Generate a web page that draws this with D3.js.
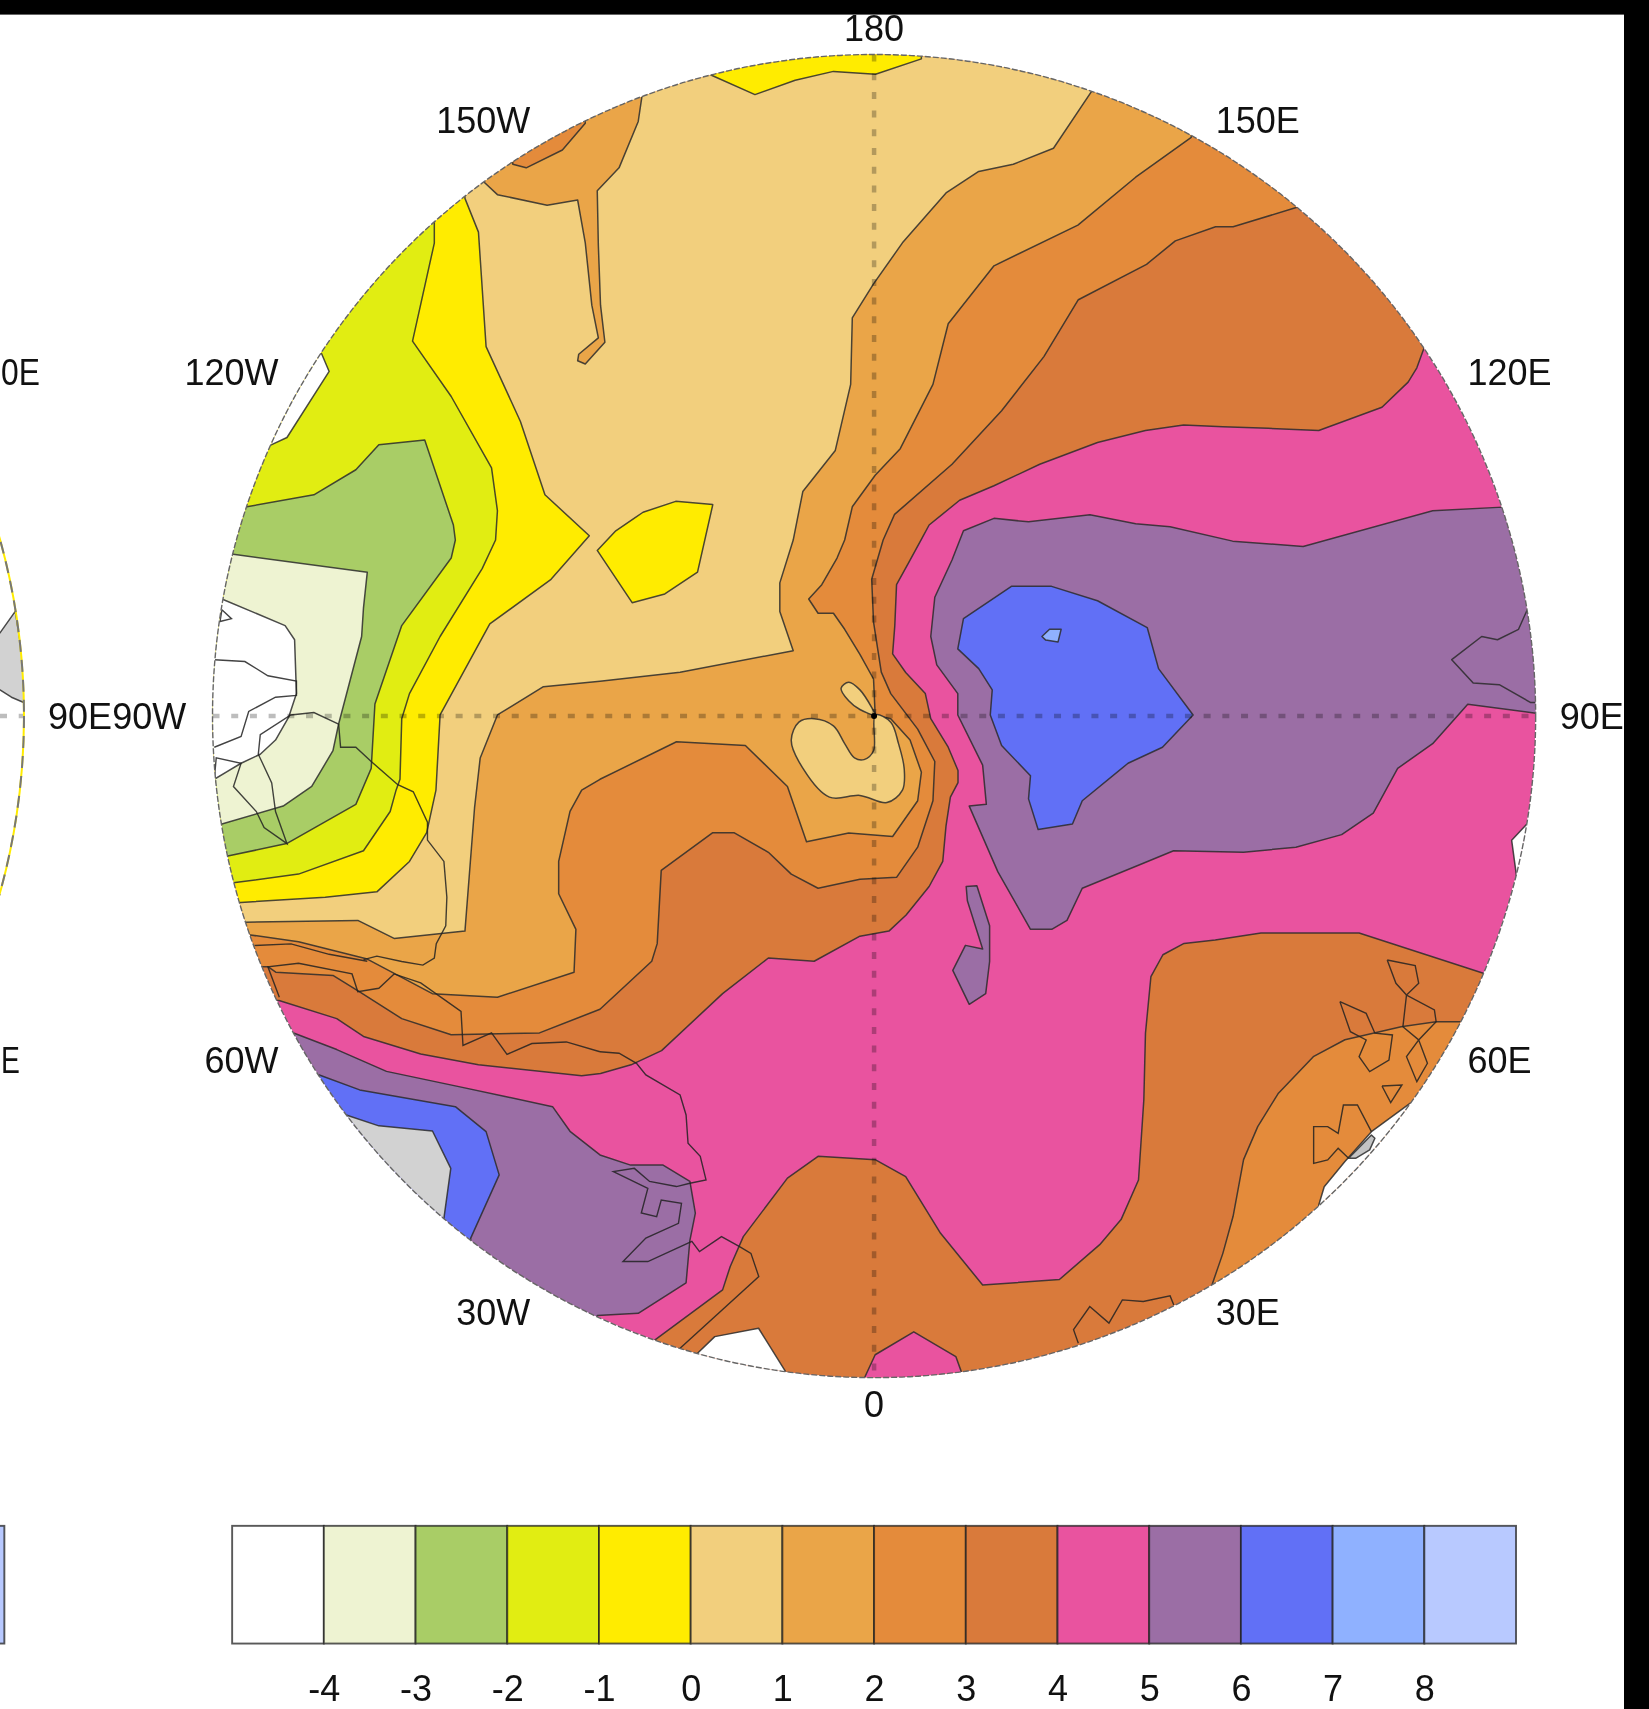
<!DOCTYPE html>
<html>
<head>
<meta charset="utf-8">
<script src="https://cdn.jsdelivr.net/npm/d3@7"></script>
<style>
  html, body { margin: 0; padding: 0; background: #000; }
  svg { display: block; }
  text { font-family: "Liberation Sans", Arial, sans-serif; font-size: 36px; fill: #111; }
  .contour { stroke: #2b2b2b; stroke-width: 1.5; stroke-opacity: 0.85; stroke-linejoin: round; }
  .coast { fill: none; stroke: #222; stroke-width: 1.4; stroke-opacity: 0.85; }
</style>
</head>
<body>
<script>
// contour levels of the colour bar, one fill per interval
const levelTicks = [-4, -3, -2, -1, 0, 1, 2, 3, 4, 5, 6, 7, 8];
const levelColors = ['#ffffff', '#eef3d2', '#a9cd66', '#e1ed12', '#ffec00', '#f2cf7d', '#eaa548',
  '#e48b3b', '#d97a3b', '#e9539f', '#9b6ea5', '#6170f6', '#8fb1ff', '#b8c9ff'];

// longitudes round the polar map
const lonValues = [0, 30, 60, 90, 120, 150, 180, -150, -120, -90, -60, -30];
const lonLabels = ['0', '30E', '60E', '90E', '120E', '150E', '180', '150W', '120W', '90W', '60W', '30W'];
// the left map only shows the ends of these labels
const leftPanelLons = [60, 90, 120];
const leftPanelFull = ['60E', '90E', '120E'];
const leftPanelShown = ['E', '90E', '0E'];

// contour outlines, in map-grid units (grid runs 195-1409 across the disc)
const level4North = [[1306.5,319.5],[1300,337.5],[1292,350.6],[1268,373.6],[1210,395],[1163.5,393],[1122,391.6],[1086,390],[1051,395],[1007,406],[954,426],[912,445.7],[880.5,459],[852.5,481.7],[845,495.5],[835,514],[822.6,536.5],[821,574],[819,600],[831,617],[849,636.4],[854,659.4],[870,685.6],[879,707],[879,718],[872,731.4],[868,757.7],[865,790.4],[852.5,813.4],[831.4,839.6],[815.6,854.3],[789,859],[747,882],[705,879],[663,911.7],[607,964],[579,977],[551,985],[533.7,987],[439,977],[386,967],[333.5,951],[309,934.6],[256,918],[150,918],[150,0],[1450,0],[1450,319]];
const level3North = [[1190.8,190],[1131.4,208],[1115.3,208],[1078.4,221],[1052,242.5],[989.4,275],[957.8,327.2],[919,376.9],[873.5,426],[820.8,471.9],[810.3,495.5],[799.8,531.5],[801.5,570.9],[808.6,616.7],[817.3,636.4],[842,669],[857.7,698.7],[856,734.7],[842,777.3],[822.6,805],[789,806.8],[750.6,815],[726,802],[705,782],[673.4,764],[654,764],[606.7,798.6],[603,865.8],[598,882],[550.5,926],[495,947.7],[414,949.4],[368.6,934.6],[330,910],[305.5,895],[253,892],[245.8,887],[150,887],[150,0],[1191,0]];
const level2North = [[1093,126],[1042,162.6],[989,206.5],[912,243.9],[870,297],[856,352.7],[826,411.7],[803,436],[782,465],[775,495.5],[768,512],[754,536.5],[742,549.6],[750.6,562.7],[764.7,562.7],[775,577.4],[789,600.4],[801.5,623],[803,656],[817.3,659.4],[835,679],[845.4,708.5],[842,734.7],[819,767.5],[778.7,764.2],[740,772.4],[722.5,721.6],[683.9,684],[620.7,680.6],[550.5,715],[533.7,725],[523,744.5],[512.6,790.4],[512.6,820],[528.4,852.7],[526.7,892],[456.4,915],[396.7,911.7],[337,880],[273.9,864],[228,857.6],[150,857],[150,0],[1093,0]];
const level1North = [[1001.7,83.6],[966.6,136],[929.7,150.7],[898,157.3],[868,177],[828,222.8],[801.5,260.5],[782,291.7],[780.5,352.7],[766.4,413.3],[736.6,451],[727.8,495.5],[715.5,534.8],[715.5,561],[727.8,597],[624,616.8],[550.5,625],[498.6,630],[456.4,656],[440.6,695.4],[435.4,741.3],[426.6,854.3],[361.6,861],[328.3,844.5],[224.7,846.1],[150,846],[150,0],[1002,0]];
const level0West = [[426.6,182],[439,213],[446,318],[477.5,386.7],[500,453.9],[540.7,491.6],[505.6,531.5],[449.4,572.5],[403.8,656],[400,725],[391.5,764],[375.7,790.4],[345.8,818.3],[298.4,823.2],[221,828],[150,828],[150,100],[427,100]];
const levelM1West = [[398.5,205],[398.5,223],[378.5,313],[414,363.8],[451,429.3],[456.4,468.6],[454.7,495.5],[442.4,521.7],[403.8,584],[375.7,636.4],[368.6,659.4],[367,715],[363.4,725],[358,744.6],[333.5,780.6],[273.9,802],[214,810],[150,810],[150,100],[398,100]];
const levelM2West = [[226.5,465],[288,454],[326.5,431],[347.6,408],[389.7,403.7],[416,481.7],[417.8,495.5],[414,512],[368.6,574],[344,646],[340.6,705],[326.5,738],[263,774],[209,785.5],[150,785],[150,465]];
const levelM3West = [[214,508.6],[337,525],[333.5,557.8],[331.8,584],[310.7,664.3],[305.5,688.8],[286,721.6],[259.8,739.6],[203.6,756],[150,756],[150,508]];
const levelM4West = [[203.6,549.6],[261.6,574],[270.3,587],[272,636.4],[265,657.7],[252.8,679],[238.8,692],[221.2,700.3],[196.6,715],[150,715],[150,550]];
const notch120W = [[295,324.4],[302,340.8],[263.3,401.4],[249.3,408],[200,408],[200,324]];
const yellowTop = [[652.3,68.8],[692.7,86.8],[729.6,73.7],[764.7,65.5],[803.3,68.2],[845.4,54],[845,20],[652,20]];
const yellowBlob = [[548,505],[580,553],[610,545],[640,525],[654,463],[620,460],[590,470],[565,487]];
const peninsula150W = [[444,167],[456.4,178.6],[502,188.4],[530,183.5],[537,222.8],[543,280],[549,310],[531,325],[530,331],[537,334],[555,314],[551,280],[549,225],[548,175],[568,154],[585.6,111.4],[589,88.5],[589,20],[400,20],[400,167]];
const orange150W = [[470.5,150.7],[482.8,154],[516,137.6],[537,113],[537,60],[470,60]];
const tanLoopSouth = [[726,679],[733,662.6],[747,659.4],[764.7,666],[775,682.3],[784,695.4],[792.8,697],[801.5,688.8],[803.3,656],[817.3,662.6],[824.4,682.3],[829.6,705],[828,725],[813.8,736.4],[789,729.8],[761,731.4],[733,698.7]];
const tanLoopNorth = [[803,656],[789,651],[778.7,643],[771.7,631.5],[778.7,626],[789,633],[800,649.5]];
const level5East = [[1378.8,465.3],[1314.5,468.6],[1195.7,501.4],[1131,496.5],[1073.6,483.4],[1042,480.5],[1000,472.3],[943.7,478.8],[912,475.6],[884,487],[873.5,513.8],[857.7,548],[854,584],[859.5,610],[878.8,636.4],[878.8,656],[901.6,702],[905,738],[889.3,739.6],[915.6,800],[945.5,852.7],[965,852.7],[979,844.5],[993,815],[1049,792],[1076.8,780.6],[1141,782],[1189,777.3],[1231,765.8],[1260,746],[1282.4,705],[1314.5,682.3],[1346.7,646.2],[1409.3,654.4],[1500,654],[1500,465]];
const level6East = [[928,538],[964.8,538],[1007,551.2],[1052.6,575.8],[1063,613.5],[1094.7,656],[1066.6,685.6],[1035,700.3],[993,734.7],[984,756],[952.5,761],[943.7,733],[945.5,711.8],[919,684],[908.6,656],[910.4,633],[898,613.5],[878.8,595.4],[884,567.6]];
const level7East = [[956,584],[963,577.4],[973.6,577.4],[970.8,589],[959.5,587.3]];
const purpleIslands = [[886.5,813.4],[896.3,812.7],[908,849.4],[908,882.2],[904.4,911.7],[889.3,921.5],[874.2,890.4],[885.8,867.4],[901.6,870.8],[887.6,826.5]];
const purpleInset90E = [[1401.3,559.4],[1393.3,577.4],[1374,587],[1359.5,584],[1332,605.3],[1351.7,626.6],[1375.6,628.2],[1404.5,644.6],[1500,644.6],[1500,559]];
const whiteEast = [[1401,756],[1387,771],[1392,808],[1500,808],[1500,756]];
const level5South = [[270,948],[309,963],[354.6,983],[421,997],[463.5,1006],[507,1015.4],[523,1038],[550.5,1059.7],[578.6,1069],[608.4,1069],[633,1084],[638,1113],[633,1138],[629.5,1177],[585.6,1205],[548,1207],[548,1300],[150,1300],[150,948]];
const level6South = [[293,986.3],[330,1000],[417.8,1015.4],[446,1038.3],[458,1078],[431.9,1136],[431,1300],[150,1300],[150,986]];
const missingSouth = [[317.7,1023],[347.6,1033],[396.8,1037.7],[413.6,1072],[407.3,1117.8],[407,1300],[150,1300],[150,1023]];
const level4South = [[1361,893],[1247,856],[1157,856],[1115,862.5],[1086.4,865.6],[1067,876],[1056,896],[1051,948],[1049.5,1009],[1044.6,1082.7],[1028.6,1119],[1009,1142],[972,1174],[901.6,1179],[863,1131.6],[831,1079.6],[803,1064],[750.6,1061],[722.5,1081],[682,1134.6],[670,1162],[663,1183.5],[601,1229.4],[540,1330],[1500,1330],[1500,893]];
const level3South = [[1112,1179],[1122,1150],[1131.4,1116],[1141,1064],[1154,1033.7],[1173,1003],[1205,969.5],[1234,954],[1285.6,942],[1317.7,937.4],[1340,937.4],[1500,937],[1500,1330],[1112,1330]];
const whiteSouthEast = [[1210,1105.6],[1215,1088.8],[1234,1065.8],[1258.3,1038.3],[1293.7,1012.3],[1400,1012],[1400,1200],[1210,1200]];
const missingSliver = [[1237.4,1062.8],[1258.3,1041.4],[1261.5,1044.4],[1256.7,1055],[1243.8,1062.8]];
const pinkPatchSouth = [[793,1264.6],[803,1243],[838.4,1222],[877,1244.7],[882,1258.5],[882,1300],[793,1300]];
const whiteSouth = [[640,1241.6],[655.8,1226.4],[696,1218.7],[720.8,1258.5],[720,1300],[640,1300]];
const missingLeftPanel = [[-100,580.7],[0,580.7],[14,561],[19.3,594],[22.8,620],[21.8,644.6],[10.5,639.7],[0,633],[-100,633]];

// painted back to front, each with the interval it fills
const contourLayers = [
  [level4North, 8], [level3North, 7], [level2North, 6], [level1North, 5], [level0West, 4],
  [levelM1West, 3], [levelM2West, 2], [levelM3West, 1], [levelM4West, 0], [notch120W, 0],
  [yellowTop, 4], [yellowBlob, 4], [peninsula150W, 6], [orange150W, 7], [tanLoopSouth, 5, true], [tanLoopNorth, 5, true],
  [level5East, 10], [level6East, 11], [level7East, 12], [purpleIslands, 10], [purpleInset90E, 10], [whiteEast, 0],
  [level5South, 10], [level6South, 11],
  [level4South, 8], [level3South, 7], [whiteSouthEast, 0], [pinkPatchSouth, 9], [whiteSouth, 0]
];

// coastlines
const coastNamibia = [[550.5,965],[568,966.4],[584,975.6],[592.6,986.3],[624,1004.7],[629.5,1023],[631.3,1049],[642.5,1061],[647.8,1082.6],[633,1085.7],[620.7,1088.7],[596,1084],[582,1072],[562.8,1075],[594.4,1090.3],[588.4,1113],[602.5,1116.3],[606.7,1101],[625.3,1104],[622.5,1122.4],[592.6,1136],[571.6,1157.5],[594.4,1157.5],[634.8,1139],[641.8,1148.4],[662,1134.6],[678.6,1143.8],[689,1150],[696.2,1171.3],[624,1237]];
const coastAntarctic = [[550.5,965],[519.6,956],[488,957.5],[465.2,967.4],[451,947.7],[424.8,959.2],[423,928],[386,901.8],[361.6,893.6],[347.6,906.8],[328.3,910],[323,893.6],[273.9,883.8],[245.8,887],[256.3,915]];
const coastPeninsula = [[233.5,867.5],[267,866],[302,875.6],[337,882]];
const coastWestA = [[310.7,664.3],[312.5,685.6],[326.5,685.6],[340.6,698.7],[365,720],[379.2,726.5],[392.2,754.4],[392.2,770.8],[407.3,790.4],[410,823.2],[409,849.4],[400.3,865.8],[398.5,879],[388,885.5],[368.6,882.2],[345.8,877.3],[333.5,880.5]];
const coastWestB = [[310.7,664.3],[288,653.8],[266.8,656],[238.8,674],[237,692],[249.3,718.3],[252.8,744.6],[263.3,774],[242.3,759.3],[235.2,744.6],[214.2,721.6],[221.2,700.3],[198.4,695.4],[196.6,715]];
const coastWestC = [[196.6,605.3],[224.7,607],[245.8,620],[272,625],[272,638],[252.8,639.7],[228.2,652.8],[221.2,675.7],[196.6,685.6]];
const coastIslet = [[203.6,559.4],[212.4,567.6],[201.9,570.2],[203.6,559.4]];
const coastEastA = [[1272.8,880.8],[1298.5,886],[1301.7,902.2],[1290.5,913],[1316.1,926.7],[1317.7,937.4],[1301.7,954.2],[1309.7,975.6],[1300,992.5],[1290.5,969.5],[1301.7,954.2],[1287.2,942],[1290.5,913],[1280.8,902.2],[1272.8,880.8]];
const coastEastB = [[1229.4,919],[1253.5,929.8],[1261.5,948],[1277.6,949.6],[1274.4,972.6],[1256.7,983.3],[1247,969.5],[1253.5,954.2],[1239,946.6],[1229.4,919]];
const coastEastC = [[1268,996.4],[1286.3,995.5],[1276,1011.7],[1268,996.4]];
const coastEastD = [[1258.3,1038.3],[1245.5,1013.9],[1232.6,1013.9],[1227.8,1039.9],[1218.2,1033.7],[1205.3,1033.7],[1205.3,1067.4],[1218.2,1064.3],[1227.8,1053.6],[1237.4,1062.8]];
const coastSouthE = [[989.4,1232.5],[985,1220],[999.9,1198.8],[1017.5,1214],[1029.8,1192.7],[1049,1194.2],[1073.6,1189],[1077,1197.3]];
const coastlines = [coastNamibia, coastAntarctic, coastPeninsula, coastWestA, coastWestB, coastWestC, coastIslet,
  coastEastA, coastEastB, coastEastC, coastEastD, coastSouthE];

const width = 1649;
const height = 1709;
const gridToPx = 1649 / 1513;
const panelShift = 1387; // second map sits this many grid units to the left

const x = d3.scaleLinear().domain([195, 1409]).range([195 * gridToPx, 1409 * gridToPx]);
const y = d3.scaleLinear().domain([50, 1264]).range([50 * gridToPx, 1264 * gridToPx]);
const centerX = 802;
const centerY = 657;
const radius = 607;

const line = d3.line().x(d => x(d[0])).y(d => y(d[1]));
const smoothLine = d3.line().x(d => x(d[0])).y(d => y(d[1])).curve(d3.curveCatmullRomClosed.alpha(0.5));

const root = d3.select('body').append('svg')
  .attr('width', width)
  .attr('height', height);

root.append('rect').attr('width', width).attr('height', height).attr('fill', '#fff');

const chart = root.append('g').style('filter', 'blur(0.7px)');

const discPx = x(centerX + radius) - x(centerX);

const defs = root.append('defs');
defs.append('clipPath').attr('id', 'disc')
  .append('circle')
  .attr('cx', x(centerX)).attr('cy', y(centerY))
  .attr('r', discPx);
defs.append('clipPath').attr('id', 'discLeft')
  .append('circle')
  .attr('cx', x(centerX - panelShift)).attr('cy', y(centerY))
  .attr('r', discPx);

// left-hand map, only its edge is in frame
const leftMap = chart.append('g').attr('clip-path', 'url(#discLeft)');
leftMap.append('path')
  .attr('class', 'contour')
  .attr('d', line(missingLeftPanel) + 'Z')
  .attr('fill', '#d2d2d2');
leftMap.append('line')
  .attr('x1', 0).attr('x2', x(centerX - panelShift + radius))
  .attr('y1', y(centerY)).attr('y2', y(centerY))
  .attr('stroke', '#000').attr('stroke-opacity', 0.26).attr('stroke-width', 4.5).attr('stroke-dasharray', '7 11.7');
chart.append('circle')
  .attr('cx', x(centerX - panelShift)).attr('cy', y(centerY)).attr('r', discPx)
  .attr('fill', 'none').attr('stroke', '#ffec00').attr('stroke-width', 2);
chart.append('circle')
  .attr('cx', x(centerX - panelShift)).attr('cy', y(centerY)).attr('r', discPx)
  .attr('fill', 'none').attr('stroke', '#777').attr('stroke-width', 2).attr('stroke-dasharray', '12 8');

// main map
const map = chart.append('g').attr('clip-path', 'url(#disc)');

map.append('circle')
  .attr('cx', x(centerX)).attr('cy', y(centerY)).attr('r', discPx)
  .attr('fill', levelColors[9]);

map.selectAll('path.contour')
  .data(contourLayers)
  .enter().append('path')
  .attr('class', 'contour')
  .attr('d', d => d[2] ? smoothLine(d[0]) : line(d[0]) + 'Z')
  .attr('fill', d => levelColors[d[1]]);

map.append('path')
  .attr('class', 'contour')
  .attr('d', line(missingSouth) + 'Z')
  .attr('fill', '#d2d2d2');
map.append('path')
  .attr('class', 'contour')
  .attr('d', line(missingSliver) + 'Z')
  .attr('fill', '#c4c4c4');

map.selectAll('path.coast')
  .data(coastlines)
  .enter().append('path')
  .attr('class', 'coast')
  .attr('d', d => line(d));

// graticule through the pole
[[[centerX, centerY - radius], [centerX, centerY + radius]],
 [[centerX - radius, centerY], [centerX + radius, centerY]]].forEach(seg => {
  map.append('path')
    .attr('d', line(seg))
    .attr('fill', 'none')
    .attr('stroke', '#000')
    .attr('stroke-opacity', 0.26)
    .attr('stroke-width', 4.5)
    .attr('stroke-dasharray', '7 11.7');
});

map.append('circle')
  .attr('cx', x(centerX)).attr('cy', y(centerY)).attr('r', 3)
  .attr('fill', '#000');

chart.append('circle')
  .attr('cx', x(centerX)).attr('cy', y(centerY)).attr('r', discPx)
  .attr('fill', 'none').attr('stroke', '#666').attr('stroke-width', 1.4).attr('stroke-dasharray', '6 2');

// longitude labels sit a fixed distance off the rim
const labelRadius = radius + 24;
const eastNudge = -2;
lonValues.forEach((lon, i) => {
  const a = lon * Math.PI / 180;
  const s = Math.sin(a);
  const middle = Math.abs(s) < 0.01;
  chart.append('text')
    .attr('x', x(centerX + labelRadius * s + (!middle && s > 0 ? eastNudge : 0)))
    .attr('y', y(centerY + labelRadius * Math.cos(a)))
    .attr('dy', '0.36em')
    .attr('text-anchor', middle ? 'middle' : (s > 0 ? 'start' : 'end'))
    .text(lonLabels[i]);
});

// left map labels, measured at full length then ended on the same spot;
// squeezed a little where the page edge would otherwise cut them
leftPanelLons.forEach((lon, i) => {
  const a = lon * Math.PI / 180;
  const label = chart.append('text')
    .attr('y', y(centerY + labelRadius * Math.cos(a)))
    .attr('dy', '0.36em')
    .text(leftPanelFull[i]);
  const fullWidth = label.node().getComputedTextLength();
  const endX = x(centerX - panelShift + labelRadius * Math.sin(a) + eastNudge) + fullWidth;
  label.attr('x', endX).attr('text-anchor', 'end').text(leftPanelShown[i]);
  if (endX - label.node().getComputedTextLength() < 1) {
    label.attr('textLength', endX - 1).attr('lengthAdjust', 'spacingAndGlyphs');
  }
});

// colour bar
const barScale = d3.scaleLinear().domain([-5, 9]).range([213 * gridToPx, 1391 * gridToPx]);
const barTop = 1400 * gridToPx;
const barHeight = 108 * gridToPx;

function drawBar(g) {
  g.selectAll('rect')
    .data(levelColors)
    .enter().append('rect')
    .attr('x', (d, i) => barScale(i - 5))
    .attr('y', barTop)
    .attr('width', (d, i) => barScale(i - 4) - barScale(i - 5))
    .attr('height', barHeight)
    .attr('fill', d => d)
    .attr('stroke', '#222')
    .attr('stroke-opacity', 0.75)
    .attr('stroke-width', 1.9);
}
chart.append('g').call(drawBar);
chart.append('g').attr('transform', `translate(${-panelShift * gridToPx},0)`).call(drawBar);

const barAxis = d3.axisBottom(barScale)
  .tickValues(levelTicks)
  .tickFormat(d => String(d)) // plain hyphen on the negatives
  .tickSize(0)
  .tickPadding(0);

const axisG = chart.append('g')
  .attr('transform', `translate(0,${1537.5 * gridToPx})`)
  .call(barAxis);
axisG.select('.domain').remove();
axisG.attr('font-size', null).attr('font-family', null);
axisG.selectAll('text').attr('fill', null);

// black edges of the screenshot
root.append('rect').attr('width', width).attr('height', 14.6).attr('fill', '#000');
root.append('rect').attr('x', 1624).attr('width', width - 1624).attr('height', height).attr('fill', '#000');
</script>
</body>
</html>
